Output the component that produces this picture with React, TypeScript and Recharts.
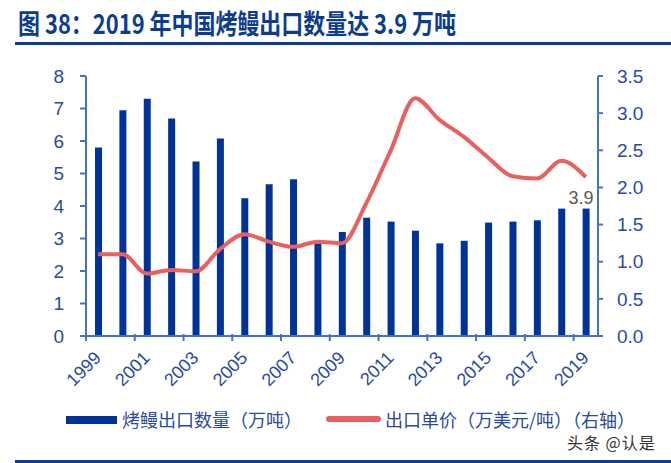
import React from 'react'
import { ComposedChart, Bar, Line, XAxis, YAxis, LabelList } from 'recharts'

const years = ['1999', '2000', '2001', '2002', '2003', '2004', '2005', '2006', '2007', '2008', '2009', '2010', '2011', '2012', '2013', '2014', '2015', '2016', '2017', '2018', '2019']
const volume = [5.8, 6.95, 7.3, 6.69, 5.37, 6.08, 4.24, 4.67, 4.82, 2.85, 3.2, 3.64, 3.52, 3.24, 2.85, 2.93, 3.49, 3.52, 3.56, 3.92, 3.92]
const price = [1.1, 1.1, 0.84, 0.89, 0.87, 1.17, 1.37, 1.27, 1.2, 1.27, 1.25, 1.79, 2.5, 3.2, 2.91, 2.68, 2.4, 2.15, 2.12, 2.36, 2.14]
const leftTicks = [0, 1, 2, 3, 4, 5, 6, 7, 8]
const rightTicks = [0, 0.5, 1, 1.5, 2, 2.5, 3, 3.5]

const data = years.map((y, i) => ({ year: y, volume: volume[i], price: price[i] }))

const AXIS = '#4472C4'
const LABEL = '#2A4A9E'
const BAR = '#003399'
const LINE = '#E8615F'
const NUM_FONT = '"Liberation Sans", Arial, sans-serif'
const CJK_FONT = '"Noto Sans CJK SC", sans-serif'

// category ticks sit on the left edge of each odd year's band
const YearTick = (props: any) => {
  const { x, y, payload } = props
  const half = 12.2
  const ax = x + 4
  const ay = y + 23
  return (
    <g>
      <line x1={x - half} x2={x - half} y1={y - 2} y2={y + 5} stroke={AXIS} strokeWidth={2} />
      <text
        x={ax}
        y={ay}
        textAnchor="end"
        fill={LABEL}
        fontSize={18}
        fontFamily={NUM_FONT}
        transform={`rotate(-45, ${ax}, ${ay})`}
      >
        {payload.value}
      </text>
    </g>
  )
}

export default function App() {
  return (
    <div style={{ position: 'absolute', left: 0, top: 0, width: 671, height: 463, background: '#fff', overflow: 'hidden' }}>
      <div
        style={{
          position: 'absolute', left: 18, top: 5, whiteSpace: 'nowrap',
          fontFamily: CJK_FONT, fontWeight: 700, fontSize: 27, color: '#0C3C8F',
          transform: 'scaleX(0.813)', transformOrigin: 'left top', lineHeight: '36px',
        }}
      >
        图 38：2019 年中国烤鳗出口数量达 3.9 万吨
      </div>
      <div style={{ position: 'absolute', left: 15, top: 42, width: 656, height: 3, background: '#0A3C97' }} />

      <div style={{ position: 'absolute', left: 0, top: 0 }}>
        <ComposedChart width={671} height={400} data={data} margin={{ top: 76, right: 0, left: 0, bottom: 4 }} barCategoryGap={0}>
          <XAxis
            dataKey="year"
            interval={1}
            height={60}
            tickLine={false}
            tickSize={0}
            tickMargin={0}
            axisLine={{ stroke: AXIS, strokeWidth: 2 }}
            tick={<YearTick />}
          />
          <YAxis
            yAxisId="left"
            domain={[0, 8]}
            ticks={leftTicks}
            width={86}
            tickSize={6}
            tickMargin={16}
            axisLine={{ stroke: AXIS, strokeWidth: 2 }}
            tickLine={{ stroke: AXIS, strokeWidth: 2 }}
            tick={{ fill: LABEL, fontSize: 19, fontFamily: NUM_FONT }}
          />
          <YAxis
            yAxisId="right"
            orientation="right"
            domain={[0, 3.5]}
            ticks={rightTicks}
            width={73}
            tickSize={5}
            tickMargin={14}
            tickFormatter={(v: number) => v.toFixed(1)}
            axisLine={{ stroke: AXIS, strokeWidth: 2 }}
            tickLine={{ stroke: AXIS, strokeWidth: 2 }}
            tick={{ fill: LABEL, fontSize: 19, fontFamily: NUM_FONT, textAnchor: 'start' }}
          />
          <Bar yAxisId="left" dataKey="volume" fill={BAR} barSize={7} isAnimationActive={false}>
            <LabelList
              dataKey="volume"
              position="top"
              content={(p: any) =>
                p.index === years.length - 1 ? (
                  <text x={p.x + p.width / 2 - 5} y={p.y - 5} textAnchor="middle" fill="#595959" fontSize={18} fontFamily={NUM_FONT}>
                    {Number(p.value).toFixed(1)}
                  </text>
                ) : null
              }
            />
          </Bar>
          <Line yAxisId="right" dataKey="price" type="monotone" stroke={LINE} strokeWidth={4} dot={false} isAnimationActive={false} />
        </ComposedChart>
      </div>

      {/* legend */}
      <div style={{ position: 'absolute', left: 66, top: 416, width: 51, height: 8, background: BAR }} />
      <div style={{ position: 'absolute', left: 122, top: 410, fontFamily: CJK_FONT, fontSize: 18, color: LABEL, whiteSpace: 'nowrap', lineHeight: '18px' }}>
        烤鳗出口数量（万吨）
      </div>
      <div style={{ position: 'absolute', left: 326, top: 416, width: 55, height: 6, borderRadius: 3, background: LINE }} />
      <div style={{ position: 'absolute', left: 385, top: 410, fontFamily: CJK_FONT, fontSize: 18, color: LABEL, whiteSpace: 'nowrap', lineHeight: '18px' }}>
        出口单价（万美元/吨）（右轴）
      </div>
      <div style={{ position: 'absolute', left: 567, top: 434, fontFamily: CJK_FONT, fontSize: 16, letterSpacing: 1, color: '#333', whiteSpace: 'nowrap', lineHeight: '16px' }}>
        头条 @认是
      </div>
      <div style={{ position: 'absolute', left: 15, top: 460, width: 656, height: 3, background: '#0A3C97' }} />
    </div>
  )
}
